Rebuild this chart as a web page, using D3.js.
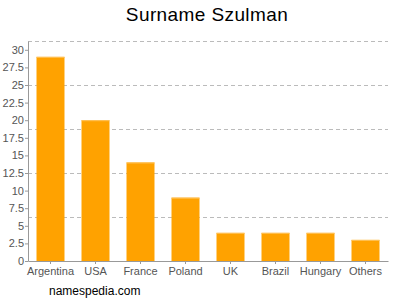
<!DOCTYPE html>
<html>
<head>
<meta charset="utf-8">
<script src="https://cdn.jsdelivr.net/npm/d3@7"></script>
<style>
  body { margin: 0; background: #fff; }
  text { font-family: "Liberation Sans", Arial, sans-serif; }
</style>
</head>
<body>
<div id="chart"></div>
<script>
var countries = ["Argentina", "USA", "France", "Poland", "UK", "Brazil", "Hungary", "Others"],
    counts = [29, 20, 14, 9, 4, 4, 4, 3],
    yTicks = [0, 2.5, 5, 7.5, 10, 12.5, 15, 17.5, 20, 22.5, 25, 27.5, 30],
    gridLines = [6.25, 12.5, 18.75, 25, 31.25];

var width = 400, height = 300,
    margin = {top: 41, right: 12, bottom: 39, left: 28};

var svg = d3.select("#chart").append("svg")
    .attr("width", width)
    .attr("height", height);

var x = d3.scaleBand()
    .domain(countries)
    .range([margin.left, width - margin.right])
    .paddingInner(0.378)
    .paddingOuter(0.189);

var y = d3.scaleLinear()
    .domain([0, 31.25])
    .range([height - margin.bottom, margin.top]);

// dashed grid
svg.append("g")
    .selectAll("line")
    .data(gridLines)
  .enter().append("line")
    .attr("x1", margin.left)
    .attr("x2", width - margin.right)
    .attr("y1", function(d) { return Math.round(y(d)) + 0.5; })
    .attr("y2", function(d) { return Math.round(y(d)) + 0.5; })
    .attr("stroke", "#bbb")
    .attr("stroke-dasharray", "4,3");

// bars
var bar = svg.selectAll(".bar")
    .data(countries)
  .enter().append("g")
    .attr("class", "bar");

bar.append("rect")
    .attr("x", function(d) { return x(d); })
    .attr("y", function(d, i) { return y(counts[i]); })
    .attr("width", x.bandwidth())
    .attr("height", function(d, i) { return y(0) - y(counts[i]); })
    .attr("fill", "#ffa200");

bar.append("rect")
    .attr("x", function(d) { return x(d); })
    .attr("y", function(d, i) { return y(counts[i]); })
    .attr("width", x.bandwidth())
    .attr("height", 1)
    .attr("fill", "#ffc35a");

// axes
var yAxis = svg.append("g")
    .attr("transform", "translate(" + margin.left + ",0)")
    .call(d3.axisLeft(y).tickValues(yTicks).tickSize(3).tickSizeOuter(0).tickFormat(d3.format("")));

var xAxis = svg.append("g")
    .attr("transform", "translate(0," + y(0) + ")")
    .call(d3.axisBottom(x).tickSize(3).tickSizeOuter(0));

[yAxis, xAxis].forEach(function(a) {
  a.select(".domain").attr("stroke", "#999");
  a.selectAll(".tick line").attr("stroke", "#999");
  a.selectAll(".tick text")
      .attr("fill", "#555")
      .style("font-size", "11px")
      .style("font-family", "'Liberation Sans', Arial, sans-serif");
});
yAxis.selectAll(".tick text").attr("x", -4);
xAxis.selectAll(".tick text").attr("y", 6);

// title
svg.append("text")
    .attr("x", 207)
    .attr("y", 21)
    .attr("text-anchor", "middle")
    .style("font-size", "19px")
    .style("letter-spacing", "0.4px")
    .attr("fill", "#000")
    .text("Surname Szulman");

svg.append("text")
    .attr("x", 49)
    .attr("y", 295)
    .style("font-size", "12px")
    .attr("fill", "#000")
    .text("namespedia.com");
</script>
</body>
</html>
